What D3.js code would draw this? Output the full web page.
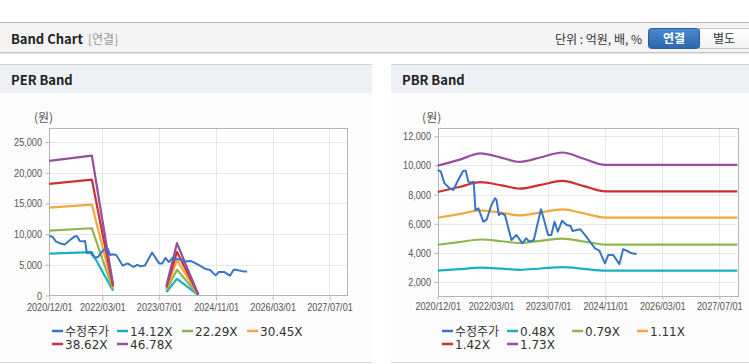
<!DOCTYPE html>
<html>
<head>
<meta charset="utf-8">
<script src="https://cdn.jsdelivr.net/npm/d3@7"></script>
<style>
  body { margin: 0; background: #fff; }
  svg { display: block; }
  .hd { font-family: "Noto Sans CJK KR", "Noto Sans", sans-serif; }
  .tick text { font-family: "Liberation Sans", Arial, sans-serif; font-size: 11px; fill: #555; }
  .lg { font-family: "DejaVu Sans", "Noto Sans CJK KR", sans-serif; font-size: 12px; fill: #333; }
</style>
</head>
<body>
<svg id="chart" width="749" height="364"></svg>
<script>
// x axis ticks shared by both charts
const tickDates = ["2020-12-01", "2022-03-01", "2023-07-01", "2024-11-01", "2026-03-01", "2027-07-01"];

// 수정주가 (same series in both charts)
const priceDates = [
  "2020-12-01", "2020-12-28", "2021-01-28", "2021-03-13", "2021-04-13", "2021-05-25",
  "2021-07-07", "2021-07-28", "2021-08-19", "2021-09-10", "2021-10-04", "2021-10-19",
  "2021-11-13", "2021-12-25", "2022-01-22", "2022-03-04", "2022-04-04", "2022-04-16",
  "2022-05-07", "2022-05-28", "2022-06-28", "2022-08-22", "2022-10-04", "2022-11-04",
  "2022-11-25", "2022-12-25", "2023-01-22", "2023-03-01", "2023-05-01", "2023-05-19",
  "2023-07-01", "2023-07-28", "2023-08-25", "2023-09-22", "2023-10-28", "2023-12-07",
  "2024-01-10", "2024-01-25", "2024-03-01", "2024-04-01", "2024-05-10", "2024-06-22",
  "2024-08-04", "2024-09-10", "2024-10-28", "2024-11-25", "2025-01-07", "2025-02-28",
  "2025-04-01", "2025-05-07", "2025-06-13", "2025-07-25"
];
const priceValues = [
  9690, 9570, 8770, 8430, 8320, 9000,
  9640, 9640, 8890, 8820, 8890, 6940,
  7060, 6140, 6260, 7290, 7750, 7650,
  6600, 6720, 6600, 4880, 5230, 4880,
  4660, 5000, 4770, 4880, 6990, 6500,
  5230, 5230, 6140, 5450, 6210, 5910,
  5840, 5500, 5570, 5620, 5230, 4770,
  4310, 4150, 3280, 3850, 3850, 3230,
  4250, 4130, 3970, 3920
];

// PER band
const perDates = ["2020-12-01", "2021-12-01", "2022-03-01", "2022-06-01", "2022-09-01",
                  "2023-09-01", "2023-12-01", "2024-03-01", "2024-06-01"];
const perLabels = ["14.12X", "22.29X", "30.45X", "38.62X", "46.78X"];
const per1412 = [6830, 7060, 3900, 780, null, 550, 2720, 1400, 60];
const per2229 = [10580, 10960, 5950, 1000, null, 800, 4190, 2150, 90];
const per3045 = [14330, 14820, 8000, 1250, null, 1050, 5800, 2950, 120];
const per3862 = [18200, 18900, 10200, 1500, null, 1300, 7100, 3650, 150];
const per4678 = [21950, 22810, 12300, 1750, null, 1550, 8530, 4350, 180];

// PBR band
const pbrDates = ["2020-12-01", "2021-06-01", "2021-12-01", "2022-06-01", "2022-11-01",
                  "2023-05-01", "2023-11-01", "2024-05-01", "2024-11-01", "2027-12-01"];
const pbrLabels = ["0.48X", "0.79X", "1.11X", "1.42X", "1.73X"];
const pbr048 = [2780, 2880, 2990, 2920, 2840, 2930, 3020, 2900, 2780, 2780];
const pbr079 = [4560, 4740, 4920, 4800, 4680, 4830, 4980, 4780, 4570, 4570];
const pbr111 = [6410, 6660, 6920, 6750, 6570, 6780, 6990, 6710, 6420, 6420];
const pbr142 = [8180, 8520, 8850, 8630, 8410, 8670, 8940, 8580, 8220, 8220];
const pbr173 = [9990, 10380, 10830, 10520, 10250, 10560, 10890, 10460, 10040, 10040];

const perTicks = [0, 5000, 10000, 15000, 20000, 25000];
const pbrTicks = [2000, 4000, 6000, 8000, 10000, 12000];

const priceColor = "#3875c4";
const bandColors = ["#1aafc4", "#8db651", "#f2a93b", "#cc3030", "#944f9d"];

const parse = d3.timeParse("%Y-%m-%d");
const svg = d3.select("#chart");
const narrow = 0.83; // tick labels in the reference are a condensed face

// ---- top header bar
svg.append("line").attr("x1", 0).attr("x2", 749).attr("y1", 22.5).attr("y2", 22.5).attr("stroke", "#bdbdbd");
svg.append("rect").attr("x", 0).attr("y", 23).attr("width", 749).attr("height", 29).attr("fill", "#f4f4f4");
svg.append("line").attr("x1", 0).attr("x2", 749).attr("y1", 52.5).attr("y2", 52.5).attr("stroke", "#c4c4c4");
svg.append("line").attr("x1", 0).attr("x2", 749).attr("y1", 53.5).attr("y2", 53.5).attr("stroke", "#e6e6e6");

svg.append("text").attr("class", "hd").attr("x", 11).attr("y", 43.5)
  .attr("font-size", 13).attr("font-weight", "bold").attr("fill", "#222").text("Band Chart");
svg.append("text").attr("class", "hd").attr("x", 88).attr("y", 43.5)
  .attr("font-size", 12).attr("fill", "#999").text("[연결]");
svg.append("text").attr("class", "hd").attr("x", 642).attr("y", 43.5).attr("text-anchor", "end")
  .attr("font-size", 12).attr("fill", "#333").text("단위 : 억원, 배, %");

const defs = svg.append("defs");
const gb = defs.append("linearGradient").attr("id", "btnOn").attr("x1", 0).attr("x2", 0).attr("y1", 0).attr("y2", 1);
gb.append("stop").attr("offset", 0).attr("stop-color", "#4c89cb");
gb.append("stop").attr("offset", 1).attr("stop-color", "#2c66ad");
const gw = defs.append("linearGradient").attr("id", "btnOff").attr("x1", 0).attr("x2", 0).attr("y1", 0).attr("y2", 1);
gw.append("stop").attr("offset", 0).attr("stop-color", "#ffffff");
gw.append("stop").attr("offset", 1).attr("stop-color", "#f1f1f1");

svg.append("rect").attr("x", 699.5).attr("y", 28.5).attr("width", 52).attr("height", 20)
  .attr("fill", "url(#btnOff)").attr("stroke", "#c5c5c5");
svg.append("rect").attr("x", 648.5).attr("y", 28.5).attr("width", 51).attr("height", 20).attr("rx", 3)
  .attr("fill", "url(#btnOn)").attr("stroke", "#2a5f9f");
svg.append("text").attr("class", "hd").attr("x", 674).attr("y", 43).attr("text-anchor", "middle")
  .attr("font-size", 12).attr("font-weight", "bold").attr("fill", "#fff").text("연결");
svg.append("text").attr("class", "hd").attr("x", 724).attr("y", 43).attr("text-anchor", "middle")
  .attr("font-size", 12).attr("fill", "#333").text("별도");

// ---- one band chart panel
function drawPanel(cfg) {
  const p = svg.append("g");
  p.append("rect").attr("x", cfg.px).attr("y", 65).attr("width", cfg.pw).attr("height", 28).attr("fill", "#edf1f6");
  p.append("rect").attr("x", cfg.px).attr("y", 93).attr("width", cfg.pw).attr("height", 269).attr("fill", "#fcfcfc");
  p.append("line").attr("x1", cfg.px).attr("x2", cfg.px + cfg.pw).attr("y1", 64.5).attr("y2", 64.5).attr("stroke", "#d3d3d3");
  p.append("line").attr("x1", cfg.px).attr("x2", cfg.px + cfg.pw).attr("y1", 362.5).attr("y2", 362.5).attr("stroke", "#d9d9d9");
  p.append("text").attr("class", "hd").attr("x", cfg.px + 11).attr("y", 84.5)
    .attr("font-size", 13).attr("font-weight", "bold").attr("fill", "#222").text(cfg.title);

  const x = d3.scaleTime()
    .domain([parse("2020-12-01"), parse("2027-12-01")])
    .range([cfg.left, cfg.right]);
  const y = d3.scaleLinear().domain(cfg.yDomain).range([cfg.bottom, cfg.top]);

  p.append("rect").attr("x", cfg.left).attr("y", cfg.top)
    .attr("width", cfg.right - cfg.left).attr("height", cfg.bottom - cfg.top).attr("fill", "#fff");

  // grid
  p.append("g").selectAll("line").data(cfg.yTicks.filter(v => v > cfg.yDomain[0])).join("line")
    .attr("x1", cfg.left).attr("x2", cfg.right)
    .attr("y1", d => Math.round(y(d)) + 0.5).attr("y2", d => Math.round(y(d)) + 0.5)
    .attr("stroke", "#e7e7e7");
  p.append("g").selectAll("line").data(tickDates.slice(1)).join("line")
    .attr("x1", d => Math.round(x(parse(d))) + 0.5).attr("x2", d => Math.round(x(parse(d))) + 0.5)
    .attr("y1", cfg.top).attr("y2", cfg.bottom)
    .attr("stroke", "#e7e7e7");

  // frame
  p.append("rect").attr("x", Math.round(cfg.left) + 0.5).attr("y", Math.round(cfg.top) + 0.5)
    .attr("width", Math.round(cfg.right - cfg.left)).attr("height", Math.round(cfg.bottom - cfg.top))
    .attr("fill", "none").attr("stroke", "#b5b5b5");

  const yAxis = p.append("g").attr("transform", `translate(${Math.round(cfg.left) + 0.5},0)`)
    .call(d3.axisLeft(y).tickValues(cfg.yTicks).tickFormat(d3.format(",")).tickSize(4).tickPadding(3));
  yAxis.select(".domain").remove();
  yAxis.selectAll(".tick line").attr("stroke", "#b5b5b5");
  yAxis.selectAll(".tick text").attr("x", -7.5 / narrow).attr("transform", `scale(${narrow},1)`);

  const xAxis = p.append("g").attr("transform", `translate(0,${Math.round(cfg.bottom) + 0.5})`)
    .call(d3.axisBottom(x).tickValues(tickDates.map(parse))
      .tickFormat(d3.timeFormat("%Y/%m/%d")).tickSize(4).tickPadding(3));
  xAxis.select(".domain").remove();
  xAxis.selectAll(".tick line").attr("stroke", "#b5b5b5");
  xAxis.selectAll(".tick text").attr("transform", `scale(${narrow},1)`);

  p.append("text").attr("class", "hd").attr("x", cfg.unitX).attr("y", 122)
    .attr("text-anchor", "middle").attr("font-size", 12).attr("fill", "#555").text("(원)");

  // bands
  const bandLine = d3.line()
    .defined(d => d.v != null)
    .x(d => x(d.t)).y(d => y(d.v))
    .curve(cfg.curve);
  cfg.bands.forEach((vals, i) => {
    const pts = cfg.bandDates.map((d, j) => ({ t: parse(d), v: vals[j] }));
    p.append("path").datum(pts).attr("d", bandLine)
      .attr("fill", "none").attr("stroke", bandColors[i]).attr("stroke-width", 2.2)
      .attr("stroke-linejoin", "round");
  });

  // price
  const priceLine = d3.line().x(d => x(d.t)).y(d => y(d.v));
  const price = priceDates.map((d, j) => ({ t: parse(d), v: priceValues[j] }));
  p.append("path").datum(price).attr("d", priceLine)
    .attr("fill", "none").attr("stroke", priceColor).attr("stroke-width", 2)
    .attr("stroke-linejoin", "round");

  // legend
  const items = [{ name: "수정주가", color: priceColor }]
    .concat(cfg.labels.map((l, i) => ({ name: l, color: bandColors[i] })));
  const lg = p.append("g").selectAll("g").data(items).join("g")
    .attr("transform", (d, i) => `translate(${cfg.legendX + (i % 4) * 65},${i < 4 ? 331 : 344})`);
  lg.append("line").attr("x1", 0).attr("x2", 11).attr("y1", 0).attr("y2", 0)
    .attr("stroke", d => d.color).attr("stroke-width", 2.5);
  lg.append("text").attr("class", "lg").attr("x", 13).attr("y", 4.5).text(d => d.name);
}

drawPanel({
  title: "PER Band", px: 0, pw: 372,
  left: 49.3, right: 347.3, top: 128.3, bottom: 295.5,
  yDomain: [0, 27250], yTicks: perTicks, unitX: 43.5,
  bandDates: perDates, bands: [per1412, per2229, per3045, per3862, per4678],
  labels: perLabels, curve: d3.curveLinear, legendX: 52
});

drawPanel({
  title: "PBR Band", px: 391, pw: 358,
  left: 437.7, right: 737.3, top: 127.7, bottom: 295.3,
  yDomain: [1090, 12590], yTicks: pbrTicks, unitX: 431.7,
  bandDates: pbrDates, bands: [pbr048, pbr079, pbr111, pbr142, pbr173],
  labels: pbrLabels, curve: d3.curveMonotoneX, legendX: 442
});
</script>
</body>
</html>
